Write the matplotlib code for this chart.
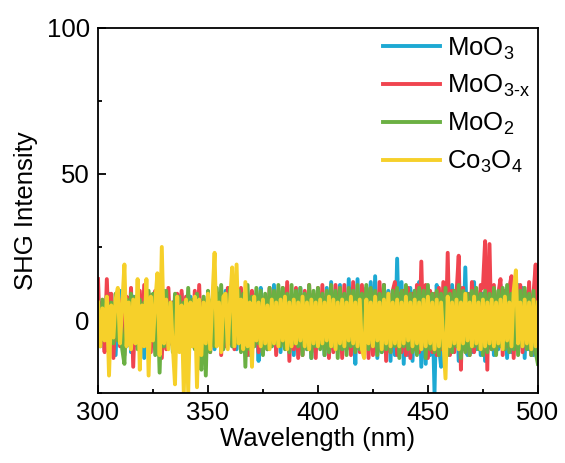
import numpy as np
import matplotlib
matplotlib.use("Agg")
import matplotlib.pyplot as plt
from matplotlib.ticker import MultipleLocator

plt.rcParams['font.family'] = ['Liberation Sans', 'DejaVu Sans']
plt.rcParams['mathtext.fontset'] = 'custom'
plt.rcParams['mathtext.rm'] = 'Liberation Sans'
plt.rcParams['mathtext.it'] = 'Liberation Sans'

# wavelength grid, 1 nm step
wavelength = np.arange(300, 501)

moo3 = [
    8, -6, 3, -10, 5, 9, -7, 4, -12, 6, 10, -5, 7, -9, 3, -11, 8, -6, 5, -9,
    7, -13, 4, 9, -8, 6, -10, 5, 8, -7, 10, -9, 4, -8, 6, -11, 7, -5, 9, -8,
    5, -10, 8, -7, 6, -9, 4, -11, 7, -8, 9, -6, 5, -10, 8, -7, 6, -9, 10, -8,
    5, -9, 7, -10, 6, -8, 9, -7, 4, -12, 8, -9, 5, -14, 11, -8, 6, -10, 7, -9,
    12, -7, 8, -11, 6, -9, 10, -8, 5, -12, 7, -9, 11, -8, 6, -10, 9, -13, 8, -7,
    10, -9, 8, -12, 11, -8, 13, -10, 7, -9, 12, -11, 8, -10, 14, -9, 7, -15, 14, -10,
    9, -12, 11, -8, 13, -10, 15, -13, 9, -11, 12, -9, 10, -14, 8, -12, 21, -10, 13, -15,
    9, -12, 11, -14, 10, -9, 13, -16, 8, -15, 10, -12, 7, -25, 12, -9, -16, 10, -13, 9,
    -11, 12, -9, 10, -14, 11, -10, 18, -12, 9, -11, 13, -10, 8, -12, 9, -14, 10, -9, 11,
    -12, 8, -10, 12, -9, 10, -13, 8, -11, 9, -10, 12, -8, 11, -13, 9, -10, 8, -12, 10,
    -9,
]

moo3x = [
    14, -8, 6, -11, 14, -7, 9, -13, 5, 10, -9, 7, -12, 8, -6, 11, -16, 6, -9, 10,
    -8, 12, -7, 9, -11, 6, 10, -9, 8, -13, 7, -10, 11, -8, 6, -12, 9, -7, 10, -9,
    8, -11, 6, -9, 10, -8, 12, -10, 7, -9, 8, -11, 6, 10, -8, 9, -12, 7, -9, 11,
    -8, 6, -10, 9, -7, 11, -9, 8, -12, 6, 10, -8, 9, -11, 7, -9, 8, -10, 11, -8,
    9, -12, 10, -8, 11, -9, 13, -14, 8, -10, 11, -13, 9, -12, 10, -8, 12, -11, 9, -13,
    11, -9, 12, -10, 8, -13, 10, -11, 12, -9, 11, -13, 12, -10, 9, -12, 13, -10, 8, -11,
    12, -9, 11, -13, 10, -12, 9, -11, 13, -10, 12, -14, 9, -11, 10, 13, -12, 9, -11, 10,
    -12, 11, -13, 9, -10, 12, -11, 20, -9, 12, -13, 10, -11, 9, -12, 11, -10, 13, -9, 23,
    -12, 10, -11, 9, 22, -17, 11, -10, 9, -12, 13, -11, 10, -9, 12, 11, 27, -17, 26, -10,
    12, -11, 9, 14, -12, 10, -9, 11, 15, -13, 9, -10, 12, -11, 10, -9, 13, -12, 9, 19,
    -11,
]

moo2 = [
    5, -9, 7, -6, 8, -11, 6, -8, 9, -7, 5, -10, -15, 7, -8, 9, -6, 8, -10, 7,
    -9, 6, -8, 10, -7, 9, -12, 8, -18, 7, -9, 10, -8, 6, -11, 9, -7, 8, -10, 6,
    -9, 11, -8, 7, -10, 9, -13, -17, 8, -19, 10, -11, 7, -9, 11, -8, 12, -10, 9, -8,
    11, -9, 12, -8, 10, -11, 9, -16, 12, -10, 8, -9, 11, -8, 10, -12, 9, -10, 11, -9,
    10, -8, 12, -9, 11, -10, 9, -11, 12, -8, 10, -9, 11, -12, 9, -10, 12, -13, 10, -9,
    11, -10, 9, -12, 10, -11, 12, -9, 10, -13, 11, -10, 9, -12, 11, -9, 10, -11, 12, -10,
    9, -11, 12, -10, 11, -9, 10, -12, 9, -11, 12, -10, 9, -11, 10, -9, 11, -13, 10, -9,
    12, -10, 9, -11, 10, -12, 11, -9, 10, -13, 12, -10, 9, -11, 10, -12, 9, -10, 11, -12,
    9, -11, 10, -9, 12, -13, 10, -11, 9, -12, 10, -9, 11, -10, 9, -12, 10, -11, 9, -10,
    11, -12, 10, -9, 11, -10, 12, -11, 9, -10, 11, -12, 10, -9, 11, -10, 9, -12, 10, -11,
    -15,
]

co3o4 = [
    6, -9, 4, -7, 8, -19, 5, -6, 7, 11, -8, 5, 19, -9, 6, -10, 7, -8, 14, -17,
    5, -9, 14, -19, 8, -7, 6, 16, -12, 25, -8, 7, -10, 6, -9, -22, 8, -11, 5, -25,
    7, -25, 6, -9, 8, -23, 7, -12, 6, -8, 9, -10, 7, 23, -9, 6, -11, 8, 9, -10,
    6, 18, -9, 19, -8, 7, -10, 13, -9, 6, -16, 8, -7, 6, -9, 7, -8, 5, -10, 7,
    -8, 6, -9, 7, -7, 8, -10, 6, -9, 7, -8, 6, -7, 8, -9, 6, -10, 7, -8, 6,
    -9, 7, -8, 6, -7, 8, -9, 7, -10, 6, -8, 7, -9, 6, -7, 8, -8, 6, -9, 7,
    -10, -13, 7, -8, 6, -9, 8, -7, 6, -10, 7, -8, 9, -9, 6, -8, 7, -9, 6, -8,
    8, -7, 6, -9, 7, -8, 6, -10, 7, -9, 8, -8, 6, -10, 7, -9, 6, -7, -20, 8,
    -9, 6, -8, 7, -10, 6, -8, 9, -7, 6, -9, 8, -8, 6, -10, 7, -9, 6, -8, 7,
    -9, 6, -8, 7, -10, 8, -7, 6, -9, 10, 17, -8, 6, -9, 7, -8, 6, -10, 7, -9,
    6,
]

labels = [r'MoO$_3$', r'MoO$_{3\text{-}x}$', r'MoO$_2$', r'Co$_3$O$_4$']
colors = ['#1DA9D3', '#F0444F', '#6BB043', '#F6D02A']

fig = plt.figure(figsize=(5.65, 4.63), dpi=100)
ax = fig.add_axes([0.1735, 0.151, 0.7785, 0.789])

for ys, lab, c in zip([moo3, moo3x, moo2, co3o4], labels, colors):
    ax.plot(wavelength, ys, color=c, lw=2.8, label=lab)

ax.set_xlim(300, 500)
ax.set_ylim(-25, 100)
ax.xaxis.set_major_locator(MultipleLocator(50))
ax.xaxis.set_minor_locator(MultipleLocator(25))
ax.yaxis.set_major_locator(MultipleLocator(50))
ax.yaxis.set_minor_locator(MultipleLocator(25))
ax.tick_params(which='both', direction='in', labelsize=18.5, width=1.3)
ax.tick_params(which='major', length=6, pad=6)
ax.tick_params(which='minor', length=3)
for sp in ax.spines.values():
    sp.set_linewidth(1.3)

ax.set_xlabel('Wavelength (nm)', fontsize=18.5, labelpad=1)
ax.set_ylabel('SHG Intensity', fontsize=18.5, labelpad=6)

ax.legend(loc='upper right', frameon=False, fontsize=18.5, handlelength=2.2,
          handletextpad=0.3, labelspacing=0.45, borderaxespad=0.0,
          borderpad=0.3)

fig.savefig('out.png', dpi=100)
